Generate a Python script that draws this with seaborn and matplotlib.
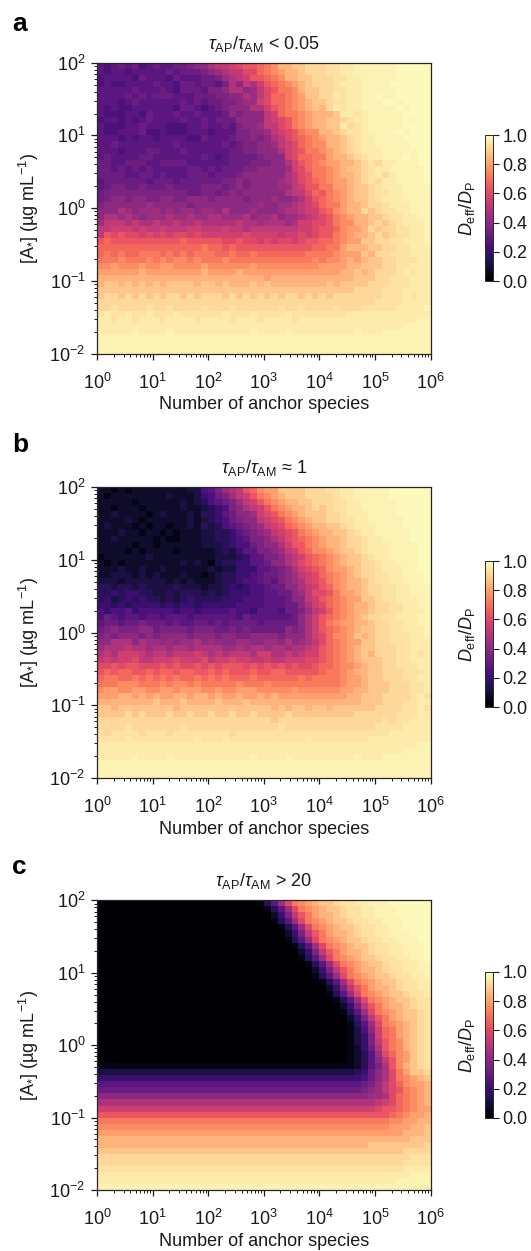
import numpy as np
import pandas as pd
import matplotlib
matplotlib.use('Agg')
import matplotlib.pyplot as plt
import seaborn as sns

# values, one letter per cell: a = 0.00, b = 0.04 ... y = 0.96
# the pale end needs finer steps: X = 0.94, Y = 0.975, z = 0.99
# every row has 6 groups of 8 cells, one group per decade on the x axis
panel_a_rows = [
    "hghihigh ihhiijkk mnnopqqr stvvwwxx xXXyyYYY YYYzzzzz",
    "hghhghhh hhihiiij klmnnppr stuvvwxx xXXyyYYY YYYzzzzz",
    "ghhhhgih hhgihhhi ijlmnoqq rstvvwwx xxXXyyYY YYYzzzzz",
    "ghgghhhh ihhgiihi ihjmknmo qrstuvwx xxXyyyYY YYzzzzzz",
    "hhhhhihh hihgiiih jjkmmkln pqsstvww xxXXyyYY YYYzzzzz",
    "hhhhihih iiihhhii ijjkkmln prrstuww xxyXyyYY zYYzzzzz",
    "hhhghihh hhhhihih iijjkllo prrstuvw wxXXyyYY YzzYzzzz",
    "hghgghhh hhhgiihg hijkkkmm oqrstuvw vxyXyyYY YYYzYzzz",
    "hggghhgi hhhihhih hhikjkkk norsstuv vvwyyXyY YYYYzzzz",
    "ghhghghi hhhhihhi hiiikkkk nopqstuv vwwxXyyY YYYYzYzz",
    "hggghhih hhggghhi hhihjkkl nnpqstuv vwwyxXyY YYYYzzzz",
    "hgghhhig ghggghhh ghhhjjkk lnopqstt vvwxXXyY YYYzYzzz",
    "hhhghghh ghhhhggi hhhijjkj kmnpqrst uvvwxXyy YYYYzzzz",
    "hhihhhhh hhhihhhh hhihijjk klnoprst tvvwxXyy YYYYYzzz",
    "hhhghhhi ihhhihhh hhhiijjk kkmopqss tuvwxXyy yYYYYYzz",
    "hihhhhii hhhhhhhi hghiiiij kkkoprrs suvvwxXy yYYYzYzz",
    "iihhiiih hiiiihhh hhhiiijj jkkmoqrs tuuvvwxX xyyYYYzz",
    "iihihihi hhhhhiih ihiiijjk kkkloprs stuvwwxX yyYYYYYz",
    "iiiihhii hihhhiii hiiijkkk kkkmnpqs stuvvwxX yxyYYYYz",
    "hiiiiiih iiihiiii iijjkjkk kklmnpqr stuuvwxX xyyYYYYz",
    "hijjiiji iijiiiij jjijkjkk kkllnoqq ssuuvwwx XyyyYYYY",
    "ijjjjjjj jjjjjiij jijkjkkk kkkmnnpr qstuvwwx XXyyYYYY",
    "ijkkjkkj jkkjjkkk jkkkkjkk klkklmoq rstuvwwx XyyyYYYY",
    "jkkkkkkl kkkkkjkk kkkkkkkl kkllmnop rssuvvwx xXyyyYYY",
    "kkkmlkll lklkllkl lkmkkklk kklmmnoo qrtuvvxw xXXyyYYY",
    "kmmlmlkl llmllmll mmlllmkl lmkllmno pqstuvvw wxXXyyYY",
    "lnnnmnmm nmmnmmnm mmmmnmml mmmlmoop pqsttvvw xwxXyyyY",
    "nnooonon nonnnoon nnonnmnn nnnnnoop qqrtuuvx wxxXXyyY",
    "nqpqppop opoppopo ooooopoo oonoopop qqstuvvw xwxXXyyY",
    "qrqqqqqq qqqqrqqq qqppqppo poppopqq rrstuuww xxXXyyyY",
    "rrrrrrrr rrrrrrrs rrqrqqqq qqqqqqqr rssuvvvw wxxXXyyy",
    "rsrsrrss srsrsrss srrsrrsr rrrrrrss sstuuuwv xxXXXyyy",
    "ssstssst ststtsts sstsssss ssssssst sttuvuvw wxxXXXyy",
    "ttutttut tuuttttu ttttttut tttttttt uuuuvvww wxxXXyyy",
    "uuuuuuvu uuuuuuuv uuuuvuuu uuuuuuuu uuuvvwvw xxxXyXyy",
    "vvvvvvvv vvvvvvvv vvvvvvvv uvvvvvvv vvvvvwww xxXXXyyy",
    "vwwvwvwv wvwwwwvw wvwvvvwv wvvvvvvv vwvwwwwx xxXXXyyy",
    "wwwwwwww wwwwwwww wwwwwwww wwwwwwww wwwwwxxx xXXXyyyy",
    "wxxwxwxw xwxxwxwx xxwxwxwx wxwxxwxw xwxxxxxx xXXXyXyy",
    "xxxxxxxx xxxxxxxx xxxxxxxx xxxxxxxx xxxxxxxx XXXXyyyy",
    "xxXxxxxX xxXxxxxX xxxXxxxx xxXxxXxx xxXxxxXX XXXyyyyY",
    "XyXXyXXy XXXyXXXX XXyXXXyX XXXyXXXX XXXXyyyy yyyyyyyy",
    "yyXyyXyy yXyyyyXy yyyXyyyX yyyyXyyy yyyyyyyy yyyyyyYY",
    "yyyyyyyy yyyyyyyy yyyyyyyy yyyyyyyy yyyyyyyy yyyyYYYY",
    "yyyyyYyy yyYyyyyy yyyyyyYy yyyYyyyy yyyyyYyy yYYYYYYY",
    "YYYYYYYY YYYYYYYY YYYYYYYY YYYYYYYY YYYYYYYY YYYYYYYY",
    "YYYYYYYY YYYYYYYY YYYYYYYY YYYYYYYY YYYYYYYY YYYYYYYY",
    "YYYYYYYY YYYYYYYY YYYYYYYY YYYYYYYY YYYYYYYY YYYYYYYY",
]

panel_b_rows = [
    "ccbcbccc cccccddg hjlmnqrt uuwwwwxx xXXyyYYY YYzzzzzz",
    "cbcccccc ccdcccdf gijlnoqs tuvwwwxx xxXyyYYY YYzzzzzz",
    "cccccbcc ccccdcde ghijlnoq stuvvwwx xxXXyyYY YYYzzzzz",
    "ccbcccbc ccccdccd efgjkmno qstuvvwx wxXXyyYY YYYzzzzz",
    "ccdccccb cdcccdce efhikklo pqstuvww wxxXyyyY YYYzzzzz",
    "ccccdcbc cccccdcd efgijkkn opqstuvw wxxXXyyY YYYYzzzz",
    "cdcccbcb ccbccdce deghijkl noprstuv vwwxXyyy YYYYzzzz",
    "cccdccbc cbcbcccd deefhijk lnopqstu vvwwxXyy YYYYYzzz",
    "ccdccccc bcbbcccd deefghjj kmnpqrst uvvwxxXy yYYYYzzz",
    "cccccbcc bccccccd ddefggij kkmoqqst uvvwxxXy yyYYYYzz",
    "ccccbcbc cccbcccc cdedfhhj jklnoqrt tuvwwxXy yyYYYYzz",
    "bccccccd cccccccc cdddefhh jjkmnoqr stuvwwxX yyYYYYzz",
    "cbcbcccc ccccdcdc bdeeffhh ikkmnpqr stuvwwxx XyyYYYzz",
    "cccdccdc cdcccccc dcddfffh hijkmopq rtuuvwxx XyyyYYzz",
    "ccdddcdc dcccdccb cdeeffgh iijklnop rstuvwxx XXyyYYYz",
    "dddcdddd ddcdcdcc cdeefggh ihjklmop qstuvvwx XXyyYYYz",
    "eedeeded dddedddc ddefefgg hiikkmno qrtuvvwx xXXyyYYY",
    "eefeffee ddedeeed edefffgg hhiiklnp pqsuuvwx xXXyyYYY",
    "efdefefe ededefee eefffggg hhhikkno qrstuuww xXXyyyYY",
    "ffefefff fefeffef ffffgggg hhhiikmo prstuvvw xxXXyyYY",
    "gfgghfgg gggfggfg ggghggfh hhgiijln oqstuvvw xxXXyyyY",
    "gihghhgh hghhhghh hhhhgihh hhhhikmo qrstuvwx xXXyyyYY",
    "hiihiiji iihihhii hihiiiih iiiiikmo qstuuvvw xxXXyyYY",
    "ijkjjjkk ijjjjijj jiijijii iiikjkmo qrstuvww xxXXyyyY",
    "jkjkkkjk jkkkkjkk kjkkjjkk kkjkkkmo prttuwvw xxXXXyyY",
    "kkmmmkml lklkllmk lkkkllkk llkmklmn prstuuww xxXXXyyy",
    "lmmmnmml mmlmmlmm mmllmlmm lmmlmmno qrstuvww xxxXXyyy",
    "mnmooonm nnmnnnon mnmnnnmo ommnmnoo qrstuvwv xxxXXyXy",
    "nonoopnn ooopooop noopoonn onnooopp qrstuvww wxxXXyyy",
    "ppqpqqpp pqpqppqp qpqqqpqp qpqpqppq rrsttuvw wxxXXXyy",
    "qrqrrqqr qrrqrrqq rqrqqqrq qrrqqqqq rsstuvvw wxxxXXXy",
    "rssrrsrs rsrsrrsr srsrrrsr rrrrrsrs ssstuuvw wxxxXXyy",
    "ssstttss ststtsts sssstsss tsssssss ssstuuvw wwxxxXXy",
    "tuuttuut tuutuuut tuttuuut ttttuttt tttuuvvw wwxxxXXy",
    "uuuvvuvu vuuvvuvv uvuuvuuv uvuuuuuu uuuuvvww wxxxxXyX",
    "vvvvvvvv wvvvwvvv vwvvvwvv vvvvvvvv vvvvvvww wxxxXXyy",
    "wwvwwwww wwwvwwww wwwwwwww wvwvwwvw wvwwwwww xxxxXXyX",
    "wwwwxwxw wwxwwxww xwwxwwxw wwwxwwww wwwwwxxx xxxXXXyy",
    "xxxxxxxx xxxxxxxx xxxxxxxx xwxxxxxx xxxxxxxx xXxXXyyy",
    "xxxxXxxx xxxxXxxx xxxxxxxx xxXxxxxx xxxxxxxx XXXXyyyy",
    "XxXXXXxX XXxXXXXX XXXxXXXX XXXXXXXX XXXXXXXX XXyyyyyy",
    "XXXXyXXX XXXXXXyX XXyXXXXX XXXXXXyX XXXXXXXy yyyyyyyy",
    "yyyyyyyy yyyyyyyy yyyyyyyy yyyyyyyy yyyyyyyy yyyyyyYY",
    "yyyyyyyy yyyyyyyy yyyyyyyy yyyyyyyy yyyyyyyy yyyyYYYY",
    "yyyyyYyy yyYyyyyy yyyyyyYy yyyYyyyy yyyyyYyy yYYYYYYY",
    "YYYYYYYY YYYYYYYY YYYYYYYY YYYYYYYY YYYYYYYY YYYYYYYY",
    "YYYYYYYY YYYYYYYY YYYYYYYY YYYYYYYY YYYYYYYY YYYYYYYY",
    "YYYYYYYY YYYYYYYY YYYYYYYY YYYYYYYY YYYYYYYY YYYYYYYY",
]

panel_c_rows = [
    "aaaaaaaa aaaaaaaa aaaaaaab ehlpstuv wwxXXyyY YYzzzzzz",
    "aaaaaaaa aaaaaaaa aaaaaaaa behlpstu vwwxXXyy YYYzzzzz",
    "aaaaaaaa aaaaaaaa aaaaaaaa acfjnqsu vvwxXXyy YYYzzzzz",
    "aaaaaaaa aaaaaaaa aaaaaaaa abehlpst uvwwxXXy yYYYzzzz",
    "aaaaaaaa aaaaaaaa aaaaaaaa aabehlps tuvwwxXX yyYYzzzz",
    "aaaaaaaa aaaaaaaa aaaaaaaa aaacfjnq suvvwxXX yyYYYzzz",
    "aaaaaaaa aaaaaaaa aaaaaaaa aaabehlp stuvwwxX XyyYYYzz",
    "aaaaaaaa aaaaaaaa aaaaaaaa aaaabehl pstuvwwx XXyyYYYz",
    "aaaaaaaa aaaaaaaa aaaaaaaa aaaaacfj nqsuvvwx XXyyYYYz",
    "aaaaaaaa aaaaaaaa aaaaaaaa aaaaabeh lpstuvww xXXyyYYz",
    "aaaaaaaa aaaaaaaa aaaaaaaa aaaaaabe hlpstuvw wxXXyyYY",
    "aaaaaaaa aaaaaaaa aaaaaaaa aaaaaaac fjnqsuvv wxXXyyYY",
    "aaaaaaaa aaaaaaaa aaaaaaaa aaaaaaab ehlpstuv wwxXXyyY",
    "aaaaaaaa aaaaaaaa aaaaaaaa aaaaaaaa behlpstu vwwxXXyy",
    "aaaaaaaa aaaaaaaa aaaaaaaa aaaaaaaa acfjnqsu vvwxXXyy",
    "aaaaaaaa aaaaaaaa aaaaaaaa aaaaaaaa abehlpst uvwwxXXy",
    "aaaaaaaa aaaaaaaa aaaaaaaa aaaaaaaa aabehlps tuvwwxXX",
    "aaaaaaaa aaaaaaaa aaaaaaaa aaaaaaaa aaacfjnq suvvwxXX",
    "aaaaaaaa aaaaaaaa aaaaaaaa aaaaaaaa aaabehlp stuvwwxX",
    "aaaaaaaa aaaaaaaa aaaaaaaa aaaaaaaa aaaacfjn qsuvwwxX",
    "aaaaaaaa aaaaaaaa aaaaaaaa aaaaaaaa aaaabehl pstuvwxX",
    "aaaaaaaa aaaaaaaa aaaaaaaa aaaaaaaa aaaabdgk orsuvwxX",
    "aaaaaaaa aaaaaaaa aaaaaaaa aaaaaaaa aaaabdfj orsuvwxX",
    "aaaaaaaa aaaaaaaa aaaaaaaa aaaaaaaa aaaabdfj nqstvwxX",
    "aaaaaaaa aaaaaaaa aaaaaaaa aaaaaaaa aaaabcfi mqstvwxX",
    "aaaaaaaa aaaaaaaa aaaaaaaa aaaaaaaa aaaabceh lprtuwxX",
    "aaaaaaaa aaaaaaaa aaaaaaaa aaaaaaaa aaaabceh knqtuwxX",
    "bbbbbbbb bbbbbbbb bbbbbbbb bbbbbbbb bbbbbceh jmqtvwxX",
    "dddddddd dddddddd dddddddd dddddddd dddddefi kmpsuwwx",
    "ffffffff ffffffff ffffffff ffffffff ffffffgi kmpstuvw",
    "hhhhhhhh hhhhhhhh hhhhhhhh hhhhhhhh hhhhhhij lnprtuuv",
    "iiiiiiii iiiiiiii iiiiiiii iiiiiiii iiiiiijk lnpqstuv",
    "kkkkkkkk kkkkkkkk kkkkkkkk kkkkkkkk kkkkkkkl lmprstuv",
    "mmmmmmmm mmmmmmmm mmmmmmmm mmmmmmmm mmmmmmmm noprstuv",
    "oooooooo oooooooo oooooooo oooooooo oooooooo pqqrstuu",
    "qqqqqqqq qqqqqqqq qqqqqqqq qqqqqqqq qqqqqqqq qqrstuuv",
    "ssssssss ssssssss ssssssss ssssssss ssssssss ssttuuvv",
    "tttttttt tttttttt tttttttt tttttttt tttttttt ttuuuvvw",
    "uuuuuuuu uuuuuuuu uuuuuuuu uuuuuuuu uuuuuuuu uuuuvvvw",
    "vvvvvvvv vvvvvvvv vvvvvvvv vvvvvvvv vvvvvvvv vvvvvwww",
    "vvvvvvvv vvvvvvvv vvvvvvvv vvvvvvvv vvvvvvvw wwwwwwwx",
    "wwwwwwww wwwwwwww wwwwwwww wwwwwwww wwwwwwww wwwwxxxx",
    "xxxxxxxx xxxxxxxx xxxxxxxx xxxxxxxx xxxxxxxx xxxxxXXX",
    "xxxxxxxx xxxxxxxx xxxxxxxx xxxxxxxx xxxxxxxx xxxxXXXX",
    "XXXXXXXX XXXXXXXX XXXXXXXX XXXXXXXX XXXXXXXX XXXXyyyy",
    "yyyyyyyy yyyyyyyy yyyyyyyy yyyyyyyy yyyyyyyy yyyyyYYY",
    "yyyyyyyy yyyyyyyy yyyyyyyy yyyyyyyy yyyyyyyy yyyYYYYY",
    "YYYYYYYY YYYYYYYY YYYYYYYY YYYYYYYY YYYYYYYY YYYYYYYY",
]

panel_letters = ['a', 'b', 'c']
panel_titles = [r'$\mathit{\tau}_{\mathrm{AP}}/\mathit{\tau}_{\mathrm{AM}}$ < 0.05',
                r'$\mathit{\tau}_{\mathrm{AP}}/\mathit{\tau}_{\mathrm{AM}}$ ≈ 1',
                r'$\mathit{\tau}_{\mathrm{AP}}/\mathit{\tau}_{\mathrm{AM}}$ > 20']
x_exponents = [0, 1, 2, 3, 4, 5, 6]
y_exponents = [2, 1, 0, -1, -2]
cbar_ticks = [0.0, 0.2, 0.4, 0.6, 0.8, 1.0]

extra_levels = {'X': 0.94, 'Y': 0.975, 'z': 0.99}


def decode(rows):
    # letters back to numbers
    cells = [[extra_levels.get(c, (ord(c) - ord('a')) / 25) for c in r.replace(' ', '')]
             for r in rows]
    return pd.DataFrame(cells)


W, H = 531, 1251
sns.set_style('ticks')
plt.rcParams['font.family'] = ['Liberation Sans', 'DejaVu Sans']
plt.rcParams['mathtext.fontset'] = 'custom'
plt.rcParams['mathtext.rm'] = 'Liberation Sans'
plt.rcParams['mathtext.it'] = 'Liberation Sans:italic'
plt.rcParams['mathtext.bf'] = 'Liberation Sans:bold'
plt.rcParams['mathtext.default'] = 'regular'
plt.rcParams['text.color'] = '#1a1a1a'
plt.rcParams['axes.labelcolor'] = '#1a1a1a'
plt.rcParams['xtick.color'] = '#1a1a1a'
plt.rcParams['ytick.color'] = '#1a1a1a'


def px_axes(fig, left, top, right, bottom):
    return fig.add_axes([left / W, 1 - bottom / H, (right - left) / W, (bottom - top) / H])


fig = plt.figure(figsize=(W / 100, H / 100), dpi=100)

# top and bottom of each heatmap, top and bottom of each colour bar, in pixels
ax_spans = [(62.7, 353.5), (487, 778), (900.3, 1190)]
cb_spans = [(135, 281), (561, 707), (972, 1118)]
letter_y = [24, 445, 867]

tick_size = 13
for i, rows in enumerate([panel_a_rows, panel_b_rows, panel_c_rows]):
    df = decode(rows)
    ax = px_axes(fig, 97, ax_spans[i][0], 430.5, ax_spans[i][1])
    cax = px_axes(fig, 485, cb_spans[i][0], 493, cb_spans[i][1])
    sns.heatmap(df, ax=ax, cbar_ax=cax, cmap='magma', vmin=0, vmax=1,
                xticklabels=False, yticklabels=False)

    n_x, n_y = df.shape[1], df.shape[0]
    per_x = n_x / (len(x_exponents) - 1)
    per_y = n_y / (len(y_exponents) - 1)
    ax.set_xticks([j * per_x for j in range(len(x_exponents))])
    ax.set_xticklabels([f'$10^{{{e}}}$' for e in x_exponents], fontsize=tick_size)
    ax.set_yticks([j * per_y for j in range(len(y_exponents))])
    ax.set_yticklabels([f'$10^{{{e}}}$' for e in y_exponents], fontsize=tick_size, rotation=0)

    # log minor ticks on the cell axes
    k = np.log10(np.arange(2, 10))
    ax.set_xticks([(d + v) * per_x for d in range(len(x_exponents) - 1) for v in k], minor=True)
    ax.set_yticks([(d + 1 - v) * per_y for d in range(len(y_exponents) - 1) for v in k], minor=True)
    ax.tick_params(which='major', length=4.3, width=0.9, bottom=True, left=True)
    ax.tick_params(axis='x', which='major', pad=9.5)
    ax.tick_params(axis='y', which='major', pad=4)
    ax.tick_params(which='minor', length=2.2, width=0.7, bottom=True, left=True)
    for s in ax.spines.values():
        s.set_visible(True)
        s.set_linewidth(0.9)

    ax.set_xlabel('Number of anchor species', fontsize=13, labelpad=2.5)
    ax.set_ylabel('[A$_{*}$] (µg mL$^{-1}$)', fontsize=13, labelpad=6)
    ax.set_title(panel_titles[i], fontsize=13, pad=10)

    cb = ax.collections[0].colorbar
    cb.set_ticks(cbar_ticks)
    cb.set_ticklabels([f'{t:.1f}' for t in cbar_ticks])
    cb.ax.tick_params(labelsize=tick_size, length=4, width=0.8, pad=3)
    cb.outline.set_visible(True)
    cb.outline.set_linewidth(0.7)
    cb.ax.yaxis.set_label_position('left')
    cb.set_label(r'$\mathit{D}_{\mathrm{eff}}/\mathit{D}_{\mathrm{P}}$', fontsize=13, labelpad=6)

    fig.text(12 / W, 1 - letter_y[i] / H, panel_letters[i], fontsize=19,
             fontweight='bold', color='black', va='center')

fig.savefig('out.png', dpi=100)
